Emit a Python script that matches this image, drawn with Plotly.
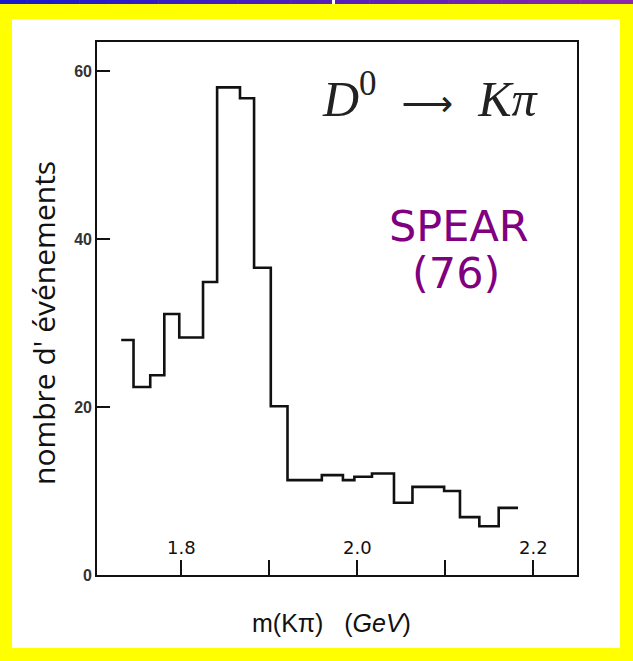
import plotly.graph_objects as go

# Bin edges (GeV) and counts
bin_edges = [1.732, 1.746, 1.765, 1.781, 1.798, 1.825, 1.841, 1.867, 1.883, 1.902,
             1.921, 1.960, 1.984, 1.997, 2.017, 2.042, 2.063, 2.099, 2.117, 2.139,
             2.161, 2.183]
counts = [28.0, 22.4, 23.8, 31.1, 28.3, 34.9, 58.1, 56.8, 36.6, 20.1,
          11.3, 11.9, 11.3, 11.7, 12.1, 8.6, 10.5, 10.0, 6.9, 5.8, 8.0]

x_ticks = [1.8, 1.9, 2.0, 2.1, 2.2]
x_label_vals = [1.8, 2.0, 2.2]
x_label_text = ["1.8", "2.0", "2.2"]
y_ticks = [0, 20, 40, 60]
y_ticklabels = ["0", "20", "40", "60"]

W, H = 633, 661
L, R, T, B = 97, 577, 42, 575

fig = go.Figure()
fig.add_trace(go.Scatter(
    x=bin_edges, y=counts + [counts[-1]], mode="lines", line_shape="hv",
    line=dict(color="#111111", width=2.6), hoverinfo="skip", showlegend=False))

def px(x):
    return (x - L) / (R - L)

def py(y):
    return (B - y) / (B - T)

shapes = []
# white panel on yellow background
shapes.append(dict(type="rect", xref="paper", yref="paper",
                   x0=px(12), x1=px(620), y0=py(648), y1=py(19),
                   fillcolor="white", line=dict(width=0), layer="below"))
# top gradient bar
n = 24
c0 = (26, 26, 204)
c1 = (140, 40, 170)
for i in range(n):
    t = i / (n - 1)
    col = "rgb(%d,%d,%d)" % tuple(int(a + (b - a) * t) for a, b in zip(c0, c1))
    shapes.append(dict(type="rect", xref="paper", yref="paper",
                       x0=px(i * W / n), x1=px((i + 1) * W / n + 0.5),
                       y0=py(4), y1=py(0), fillcolor=col, line=dict(width=0), layer="below"))
shapes.append(dict(type="rect", xref="paper", yref="paper",
                   x0=px(332), x1=px(335), y0=py(4), y1=py(0),
                   fillcolor="white", line=dict(width=0)))

def ann(text, x, y, font, **kw):
    d = dict(text=text, xref="paper", yref="paper", x=px(x), y=py(y),
             xanchor="center", yanchor="middle", showarrow=False, font=font)
    d.update(kw)
    return d

annotations = [
    ann("<i>D</i><sup>0</sup>  <span style='font-family:DejaVu Sans;font-size:36px'>⟶</span>  <i>K</i><i>π</i>",
        430, 95, dict(family="Liberation Serif", size=50, color="#222222")),
    ann("SPEAR", 459, 226, dict(family="DejaVu Sans", size=43, color="#800080")),
    ann("(76)", 456, 273, dict(family="DejaVu Sans", size=43, color="#800080")),
    ann("nombre d' événements", 43, 323,
        dict(family="Open Sans", size=30, color="#111111"), textangle=-90),
    ann("m(Kπ)   (<i>GeV</i>)", 331, 623,
        dict(family="Liberation Sans", size=25, color="#111111")),
]
for v, s in zip(x_label_vals, x_label_text):
    annotations.append(dict(text=s, x=v, xref="x", yref="paper", y=py(547),
                            xanchor="center", yanchor="middle", showarrow=False,
                            font=dict(family="DejaVu Sans", size=18, color="#111111")))

fig.update_layout(
    width=W, height=H,
    margin=dict(l=L, r=W - R, t=T, b=H - B, pad=0),
    paper_bgcolor="#ffff00", plot_bgcolor="white",
    shapes=shapes, annotations=annotations,
    xaxis=dict(range=[1.7045, 2.25], tickvals=x_ticks, showticklabels=False,
               ticks="inside", ticklen=15, tickwidth=1.5, tickcolor="#111111",
               showgrid=False, zeroline=False,
               showline=True, linecolor="#111111", linewidth=1.6, mirror=True),
    yaxis=dict(range=[0, 63.5], tickvals=y_ticks,
               ticktext=["<b>%s</b>" % t for t in y_ticklabels],
               ticks="inside", ticklen=13, tickwidth=1.5, tickcolor="#111111",
               showgrid=False, zeroline=False,
               showline=True, linecolor="#111111", linewidth=1.6, mirror=True,
               tickfont=dict(family="Liberation Sans", size=16, color="#333333")),
)

fig.write_html("out.html")
